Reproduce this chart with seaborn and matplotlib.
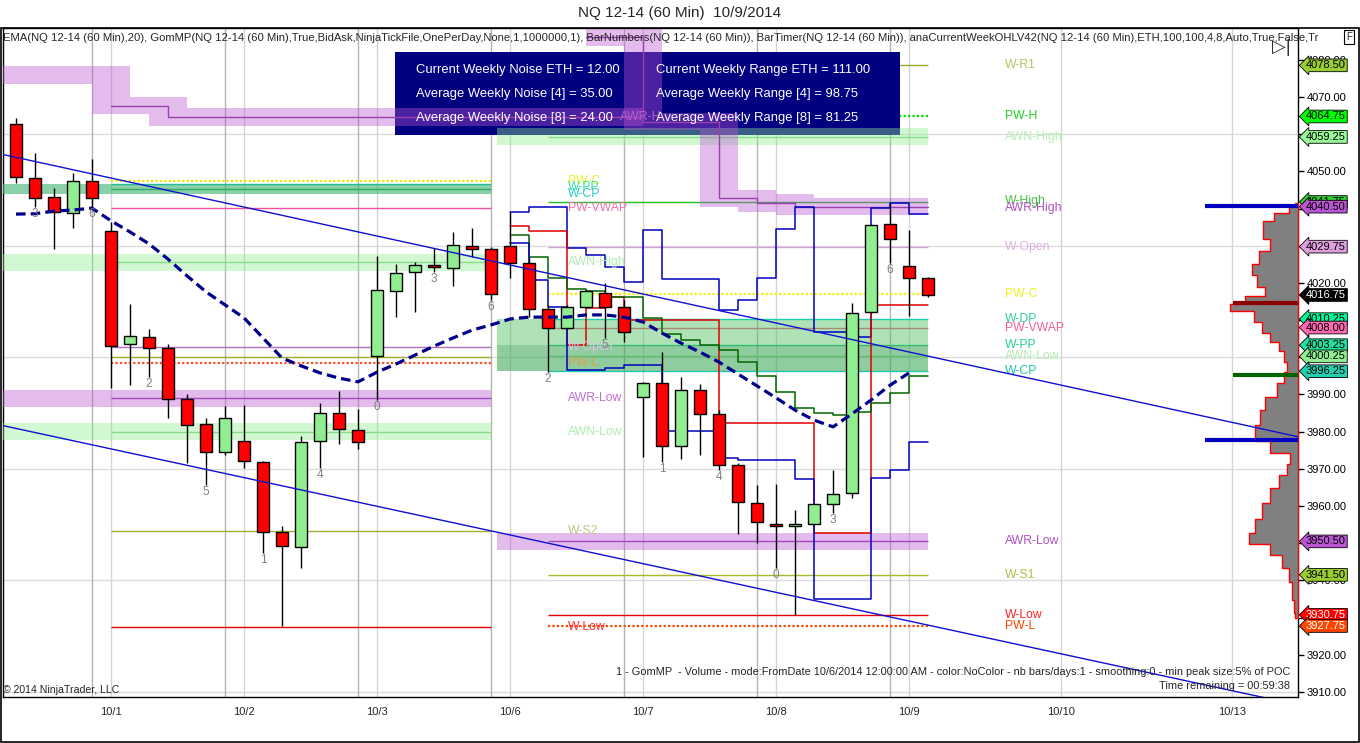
import matplotlib
matplotlib.use('Agg')
import matplotlib.pyplot as plt
from matplotlib import font_manager
from matplotlib.patches import Rectangle
import seaborn as sns
import numpy as np

sns.set_style('white')
_names = {f.name for f in font_manager.fontManager.ttflist}
NARROW = 'Liberation Sans Narrow' if 'Liberation Sans Narrow' in _names else 'Liberation Sans'
plt.rcParams['font.family'] = ['Liberation Sans', 'DejaVu Sans']

# ---------------- data: NQ 12-14, 60 min bars ----------------
opens = [4062.7, 4048.2, 4043.1, 4038.8, 4047.4, 4034.0, 4003.6, 4005.5, 4002.5, 3988.8,
         3982.0, 3974.5, 3977.5, 3971.8, 3953.0, 3949.0, 3977.5, 3985.0, 3980.4, 4000.3,
         4017.8, 4022.9, 4024.8, 4024.0, 4029.9, 4029.1, 4029.9, 4025.4, 4013.0, 4007.9,
         4013.5, 4017.3, 4013.5, 3989.3, 3993.1, 3976.1, 3991.2, 3984.8, 3971.0, 3960.8,
         3955.2, 3954.6, 3955.2, 3960.6, 3963.5, 4012.2, 4035.8, 4024.5, 4021.3]
highs = [4064.3, 4054.9, 4045.5, 4049.6, 4053.3, 4036.4, 4014.3, 4007.6, 4003.5, 3990.0,
         3983.7, 3986.9, 3987.2, 3972.1, 3954.6, 3978.8, 3987.7, 3990.9, 3986.1, 4027.2,
         4025.1, 4025.6, 4029.4, 4033.7, 4034.8, 4029.6, 4039.1, 4027.0, 4014.1, 4014.1,
         4018.0, 4020.0, 4015.4, 3993.4, 4001.4, 3994.7, 3992.8, 3985.9, 3971.6, 3965.7,
         3965.9, 3958.9, 3960.6, 3969.7, 4014.6, 4035.9, 4041.5, 4034.2, 4021.6]
lows = [4046.8, 4040.4, 4029.1, 4034.8, 4040.4, 3991.7, 3992.5, 3994.7, 3983.7, 3971.6,
        3965.7, 3973.7, 3970.2, 3947.4, 3927.7, 3943.3, 3970.2, 3976.7, 3975.3, 3988.5,
        4010.8, 4012.2, 4022.9, 4019.2, 4027.0, 4015.4, 4021.3, 4010.8, 3996.0, 4007.6,
        4013.3, 4005.2, 4004.1, 3973.2, 3971.8, 3972.6, 3973.7, 3969.7, 3952.5, 3950.1,
        3943.3, 3930.7, 3955.2, 3958.1, 3962.2, 4012.0, 4025.4, 4011.1, 4016.2]
closes = [4048.5, 4042.8, 4039.1, 4047.4, 4042.8, 4003.0, 4005.7, 4002.5, 3988.8, 3981.8,
          3974.5, 3983.7, 3972.1, 3953.0, 3949.3, 3977.2, 3985.0, 3980.7, 3977.2, 4018.1,
          4022.7, 4024.8, 4024.3, 4030.2, 4029.1, 4017.0, 4025.4, 4013.0, 4007.9, 4013.5,
          4017.8, 4013.5, 4006.8, 3993.1, 3976.1, 3991.2, 3984.8, 3971.0, 3961.1, 3955.7,
          3954.6, 3955.2, 3960.6, 3963.2, 4011.9, 4035.6, 4031.8, 4021.3, 4016.75]

ema20 = [4038.5, 4038.6, 4039.3, 4039.6, 4040.1, 4036.7, 4033.7, 4030.5, 4026.4, 4021.9,
         4017.6, 4014.1, 4010.6, 4005.2, 3999.8, 3997.7, 3995.8, 3994.4, 3993.4, 3996.0,
         3998.2, 4000.6, 4003.0, 4005.2, 4007.3, 4008.7, 4010.3, 4010.8, 4010.8, 4010.8,
         4011.4, 4011.4, 4010.8, 4009.5, 4006.5, 4003.8, 4001.4, 3998.7, 3995.5, 3992.3,
         3989.1, 3985.8, 3983.1, 3981.3, 3984.8, 3988.5, 3992.5, 3995.8]

bar_num_idx = [1, 4, 7, 10, 13, 16, 19, 22, 25, 28, 31, 34, 37, 40, 43, 46]
bar_num_txt = ['3', '6', '2', '5', '1', '4', '0', '3', '6', '2', '5', '1', '4', '0', '3', '6']

date_pos = [5, 12, 19, 26, 33, 40, 47, 55, 64]
date_lbl = ['10/1', '10/2', '10/3', '10/6', '10/7', '10/8', '10/9', '10/10', '10/13']
session_pos = [4, 11, 18, 25, 32, 39, 46]

# previous week levels (anaCurrentWeekOHLV)
prev_awr_high = [4075.9, 4075.9, 4075.9, 4075.9, 4075.9, 4067.6, 4067.6, 4067.6, 4064.6, 4064.6,
                 4064.6, 4064.6, 4064.6, 4064.6, 4064.6, 4064.6, 4064.6, 4064.6, 4064.6, 4064.6,
                 4064.6, 4064.6, 4064.6, 4064.6, 4064.6, 4064.6, 4064.6, 4064.6, 4064.6, 4064.6,
                 4064.6, 4064.6, 4064.6]
prev_pwc = 4047.4
prev_wdp = 4046.6
prev_wpp = 4045.2
prev_wcp = 4043.9
prev_vwap = 4040.1
prev_awn_high = 4025.6
prev_wopen = 4002.8
prev_ws1 = 4000.1
prev_pwl = 3998.5
prev_awr_low = 3989.0
prev_awn_low = 3980.0
prev_ws2 = 3953.3
prev_wlow = 3927.5

# current week levels
cw_r1 = 4078.50
cw_pwh = 4064.75
cw_awn_high = 4059.25
cw_whigh = 4041.75
cw_wopen = 4029.75
cw_pwc = 4017.0
cw_wdp = 4010.25
cw_vwap = 4008.00
cw_wpp = 4003.25
cw_awn_low = 4000.25
cw_wcp = 3996.25
cw_awr_low = 3950.50
cw_ws1 = 3941.50
cw_wlow = 3930.75
cw_pwl = 3927.75
cw_awr_idx = list(range(30, 48))
cw_awr_high = [4086.1, 4086.1, 4086.1, 4063.3, 4063.3, 4063.3, 4063.3, 4042.8, 4042.8, 4041.5,
               4041.5, 4040.5, 4040.5, 4040.5, 4040.5, 4040.5, 4040.5, 4040.5]

# current week step lines (bars 26..47)
step_idx = list(range(26, 48))
blue_hi = [4039.1, 4040.4, 4040.4, 4029.4, 4027.5, 4024.3, 4020.2, 4034.2, 4021.0, 4021.0, 4021.0,
           4012.7, 4015.4, 4021.3, 4034.5, 4040.4, 4006.8, 4006.8, 4005.5, 4040.1, 4041.5, 4038.5]
red_mid = [4035.3, 4034.0, 4034.0, 4003.3, 4013.3, 4016.2, 4010.0, 4010.0, 4010.0, 4010.0, 4010.0,
           3982.3, 3982.3, 3982.3, 3982.3, 3982.3, 3952.8, 3952.8, 3952.8, 4014.1, 4014.1, 4014.1]
green_mid = [4032.9, 4026.9, 4021.3, 4018.4, 4017.8, 4016.2, 4016.2, 4010.6, 4006.3, 4004.6, 4003.3,
             4002.0, 3998.7, 3995.0, 3990.7, 3986.4, 3985.0, 3984.5, 3985.3, 3987.7, 3990.4, 3995.0]
blue_lo = [4030.7, 4020.8, 4013.5, 3996.6, 3996.6, 3997.1, 3997.9, 3997.9, 3980.2, 3980.2, 3980.2,
           3972.9, 3972.4, 3972.4, 3972.4, 3967.3, 3935.0, 3935.0, 3935.0, 3967.5, 3969.7, 3977.2]

# trend lines (anchor bar, anchor price)
trend_hi_x = [-0.84, 67.5]
trend_hi_y = [4054.7, 3978.6]
trend_lo_x = [-0.84, 67.5]
trend_lo_y = [3981.8, 3906.5]

# GomMP volume profile (price, width in px)
vp_price = [4041.5, 4039.6, 4038.0, 4035.5, 4033.0, 4030.5, 4026.7, 4023.7, 4020.5, 4017.3,
            4015.4, 4013.5, 4011.3, 4007.8, 4005.4, 4003.0, 4000.6, 3997.1, 3995.0, 3991.2,
            3987.7, 3984.2, 3979.3, 3975.9, 3972.4, 3970.0, 3966.5, 3963.0, 3958.4, 3954.6,
            3951.1, 3948.7, 3945.2, 3941.7, 3937.2, 3932.3, 3930.0]
vp_width = [3, 9, 24, 35, 35, 28, 39, 46, 41, 33, 53, 68, 44, 36, 28, 19, 14, 11, 14, 21,
            33, 38, 43, 28, 8, 11, 19, 28, 36, 43, 49, 28, 16, 9, 6, 4, 3]
vp_line_price = [4040.8, 4014.6, 3995.2, 3977.8]
vp_line_len = [93, 65, 65, 93]
vp_line_color = ['#0000c0', '#8b0000', '#006400', '#0000c0']

# right axis price markers
mk_price = [4078.50, 4064.75, 4059.25, 4041.75, 4040.50, 4029.75, 4016.75, 4010.25, 4008.00,
            4003.25, 4000.25, 3996.25, 3950.50, 3941.50, 3930.75, 3927.75]
mk_color = ['#9acd32', '#00ff00', '#98fb98', '#32cd32', '#ba55d3', '#dda0dd', '#000000', '#00fa9a',
            '#ff69b4', '#20e0a0', '#90ee90', '#20d0b0', '#ba55d3', '#9acd32', '#ff0000', '#ff4500']
mk_text = ['black'] * 6 + ['white'] + ['black'] * 7 + ['white', 'white']
# tick labels that sit fully under a price marker
hidden_ticks = [4060, 4040, 4030, 4010, 4000, 3950, 3930]

noise_lines = ['Current Weekly Noise ETH = 12.00', 'Average Weekly Noise [4] = 35.00',
               'Average Weekly Noise [8] = 24.00']
range_lines = ['Current Weekly Range ETH = 111.00', 'Average Weekly Range [4] = 98.75',
               'Average Weekly Range [8] = 81.25']

# ---------------- layout / style constants ----------------
PX = 19.0                 # pixels per bar
XMIN, XMAX = -0.684, 67.47
YMIN, YMAX = 3908.66, 4088.54
PREV_LINE_START, PREV_END = 5, 25
CW_BAND_START, CW_LINE_START, CW_END = 25.3, 28, 48
BAND_W = 2.3
PURPLE = '#ba55d3'
LGREEN = '#90ee90'

fig = plt.figure(figsize=(13.6, 7.43), dpi=100)
ax = fig.add_axes([3 / 1360, 46 / 743, 1295 / 1360, 669 / 743])
ax.set_xlim(XMIN, XMAX)
ax.set_ylim(YMIN, YMAX)

# grid
for p in range(3910, 4090, 30):
    ax.axhline(p, color='#dcdcdc', lw=1, zorder=0)
for s in session_pos:
    ax.axvline(s, color='#b4b4b4', lw=1, zorder=0)
for d in date_pos:
    ax.axvline(d, color='#d4d4d4', lw=1, zorder=0)


def step_band(idx, lvl, x0=None, color=PURPLE, alpha=0.4, z=4):
    lo, hi = [], []
    for k in range(len(lvl)):
        nb = lvl[max(k - 1, 0):k + 2]
        lo.append(min(nb) - BAND_W)
        hi.append(max(nb) + BAND_W)
    xs = list(idx) + [idx[-1] + 1]
    if x0 is not None:
        xs[0] = x0
    lo.append(lo[-1])
    hi.append(hi[-1])
    ax.fill_between(xs, lo, hi, step='post', color=color, alpha=alpha, lw=0, zorder=z)


def flat_band(center, x0, x1, color, alpha=0.4, z=4):
    ax.fill_between([x0, x1], center - BAND_W, center + BAND_W, color=color, alpha=alpha, lw=0, zorder=z)


# ---- previous week ----
step_band(list(range(len(prev_awr_high))), prev_awr_high, x0=XMIN)
ax.step(list(range(PREV_LINE_START, len(prev_awr_high) + 1)),
        prev_awr_high[PREV_LINE_START:] + [prev_awr_high[-1]],
        where='post', color='#9a40b0', lw=1, zorder=4.2)
ax.fill_between([XMIN, PREV_END], prev_wcp, prev_wdp, color='#3cb371', alpha=0.6, lw=0, zorder=4)
flat_band(prev_awn_high, XMIN, PREV_END, LGREEN)
flat_band(prev_awr_low, XMIN, PREV_END, PURPLE)
flat_band(prev_awn_low, XMIN, PREV_END, LGREEN)
prev_lines = [(prev_pwc, '#e8e800', (0, (1, 1)), 1.6), (prev_wdp, '#00d0d0', '-', 1),
              (prev_wpp, '#20a040', '-', 1), (prev_vwap, '#f050a0', '-', 1),
              (prev_awn_high, '#80d080', '-', 1), (prev_wopen, '#b070c0', '-', 1),
              (prev_ws1, '#a0b030', '-', 1), (prev_pwl, '#ff5020', (0, (1, 1)), 1.6),
              (prev_awr_low, '#9a40b0', '-', 1), (prev_awn_low, '#80d080', '-', 1),
              (prev_ws2, '#a0b030', '-', 1), (prev_wlow, '#e00000', '-', 1)]
for p, c, ls, lw in prev_lines:
    ax.hlines(p, PREV_LINE_START, PREV_END, colors=c, linestyles=ls, lw=lw, zorder=3)

# ---- current week ----
cw_lines = [(cw_r1, '#9aad2a', '-', 1), (cw_pwh, '#00dd00', (0, (1, 1)), 1.6),
            (cw_awn_high, '#80d080', '-', 1), (cw_whigh, '#20c020', '-', 1),
            (cw_wopen, '#d0a0d8', '-', 1), (cw_pwc, '#f0f000', (0, (1, 1)), 1.6),
            (cw_wdp, '#00d8d8', '-', 1), (cw_vwap, '#f06080', '-', 1),
            (cw_wpp, '#20d890', '-', 1), (cw_awn_low, '#90e090', '-', 1),
            (cw_wcp, '#20c8b0', '-', 1), (cw_awr_low, '#9a40b0', '-', 1),
            (cw_ws1, '#a8b828', '-', 1), (cw_wlow, '#e00000', '-', 1),
            (cw_pwl, '#ff4500', (0, (1, 1)), 1.6)]
for p, c, ls, lw in cw_lines:
    ax.hlines(p, CW_LINE_START, CW_END, colors=c, linestyles=ls, lw=lw, zorder=3)

ax.fill_between([CW_BAND_START, CW_END], cw_wcp, cw_wdp, color='#50c060', alpha=0.45, lw=0, zorder=4)
ax.fill_between([CW_BAND_START, CW_END], cw_wcp, cw_wpp, color='#2e8b57', alpha=0.25, lw=0, zorder=4)
flat_band(cw_awn_high, CW_BAND_START, CW_END, LGREEN)
flat_band(cw_awr_low, CW_BAND_START, CW_END, PURPLE)
step_band(cw_awr_idx, cw_awr_high)
ax.step(cw_awr_idx + [CW_END], cw_awr_high + [cw_awr_high[-1]], where='post',
        color='#9a40b0', lw=1, zorder=4.2)

# step lines
for vals, col in [(blue_hi, '#0000c0'), (red_mid, '#e00000'), (green_mid, '#006400'), (blue_lo, '#0000c0')]:
    ax.step(step_idx + [CW_END], vals + [vals[-1]], where='post', color=col, lw=1.1, zorder=4.6)

# info box (indicator panel)
ax.add_patch(Rectangle((0.3027, 0.840), 0.39, 0.124, transform=ax.transAxes,
                       facecolor='#000080', edgecolor='none', zorder=3.5))
for k in range(3):
    yy = 0.937 - k * 0.036
    ax.text(0.319, yy, noise_lines[k], transform=ax.transAxes, color='white',
            fontsize=9.4, va='center', zorder=10)
    ax.text(0.504, yy, range_lines[k], transform=ax.transAxes, color='white',
            fontsize=9.4, va='center', zorder=10)
ax.text(31.8, prev_awr_high[-1], 'AWR-H', color='#b060c8', fontsize=9, va='center', zorder=9)

# candles
xs = np.arange(len(opens))
o, h, l, c = map(np.array, (opens, highs, lows, closes))
up = c >= o
ax.vlines(xs, l, h, color='black', lw=1, zorder=5)
body_lo = np.minimum(o, c)
body_h = np.maximum(np.abs(c - o), 0.5)
ax.bar(xs, body_h, bottom=body_lo, width=0.66, color=np.where(up, LGREEN, '#ff0000'),
       edgecolor='black', lw=1, zorder=5.5)

# EMA and trend lines
sns.lineplot(x=np.arange(len(ema20)), y=ema20, ax=ax, color='#00008b', lw=2.3,
             ls=(0, (3, 1.6)), zorder=7)
sns.lineplot(x=trend_hi_x, y=trend_hi_y, ax=ax, color='#1010d0', lw=1, zorder=6.5)
sns.lineplot(x=trend_lo_x, y=trend_lo_y, ax=ax, color='#1010d0', lw=1, zorder=6.5)

# bar numbers
for i, t in zip(bar_num_idx, bar_num_txt):
    ax.annotate(t, (i, lows[i]), xytext=(0, -7), textcoords='offset pixels', ha='center',
                va='center', color='#808080', fontsize=8.5, zorder=8)

# volume profile
vp_w = np.array(vp_width) / PX
ax.fill_betweenx(vp_price, XMAX - vp_w, XMAX, step='mid', facecolor='#808080',
                 edgecolor='#ff0000', lw=1, zorder=5)
for p, ln, col in zip(vp_line_price, vp_line_len, vp_line_color):
    ax.hlines(p, XMAX - ln / PX, XMAX, colors=col, lw=3, zorder=5.2)

# level labels
prev_lbls = [('PW-C', prev_pwc, '#f0f020'), ('W-PP', prev_wpp + 0.5, '#30e0a0'),
             ('W-CP', prev_wcp, '#20d0c0'), ('PW-VWAP', prev_vwap, '#f070b0'),
             ('AWN-High', prev_awn_high, '#b0ecb0'), ('W-Open', prev_wopen, '#e4c0e4'),
             ('PW-L', prev_pwl, '#e0a040'), ('AWR-Low', prev_awr_low, '#c070d0'),
             ('AWN-Low', prev_awn_low, '#b0ecb0'), ('W-S2', prev_ws2, '#c0c880'),
             ('W-Low', prev_wlow, '#ff3030')]
for t, p, col in prev_lbls:
    ax.text(29.05, p, t, color=col, fontsize=8.8, va='center', zorder=6)

cw_lbls = [('W-R1', cw_r1, '#b4c460'), ('PW-H', cw_pwh, '#20d020'),
           ('AWN-High', cw_awn_high, '#b4ecb4'), ('W-High', cw_whigh + 0.3, '#40c040'),
           ('AWR-High', cw_awr_high[-1] - 0.3, '#b050c0'), ('W-Open', cw_wopen, '#dcb0dc'),
           ('PW-C', cw_pwc, '#f0f020'), ('W-DP', cw_wdp, '#30d0a0'),
           ('PW-VWAP', cw_vwap, '#f060a0'), ('W-PP', cw_wpp, '#20d090'),
           ('AWN-Low', cw_awn_low, '#b4ecb4'), ('W-CP', cw_wcp, '#20c0b0'),
           ('AWR-Low', cw_awr_low, '#b050c0'), ('W-S1', cw_ws1, '#b0c040'),
           ('W-Low', cw_wlow, '#ff2020'), ('PW-L', cw_pwl, '#ff4500')]
for t, p, col in cw_lbls:
    ax.text(52.05, p, t, color=col, fontsize=8.8, va='center', zorder=6)

# axes
ytick_vals = np.arange(3910, 4081, 10)
ax.yaxis.tick_right()
ax.set_yticks(ytick_vals)
ax.set_yticklabels(['' if v in hidden_ticks else f'{v:.2f}' for v in ytick_vals])
ax.tick_params(axis='y', direction='out', length=4, width=1, pad=2, labelsize=8, colors='black')
ax.set_xticks(date_pos)
ax.set_xticklabels(date_lbl)
ax.tick_params(axis='x', length=0, pad=7, labelsize=8)
for sp in ax.spines.values():
    sp.set_color('black')
    sp.set_linewidth(1)

for p, fc, tc in zip(mk_price, mk_color, mk_text):
    ax.text(1.0062, p, f'{p:.2f}', transform=ax.get_yaxis_transform(), color=tc, fontsize=8,
            va='center', ha='left', zorder=20, clip_on=False,
            bbox=dict(boxstyle='larrow,pad=0.12', fc=fc, ec='black', lw=0.6))

# texts
fig.text(0.5, 1 - 13 / 743, 'NQ 12-14 (60 Min)  10/9/2014', ha='center', va='center',
         fontsize=11, family=[NARROW, 'DejaVu Sans'])
ax.text(0.0, 0.985, 'EMA(NQ 12-14 (60 Min),20), GomMP(NQ 12-14 (60 Min),True,BidAsk,NinjaTickFile,'
        'OnePerDay,None,1,1000000,1), BarNumbers(NQ 12-14 (60 Min)), BarTimer(NQ 12-14 (60 Min)), '
        'anaCurrentWeekOHLV42(NQ 12-14 (60 Min),ETH,100,100,4,8,Auto,True,False,Tr',
        transform=ax.transAxes, fontsize=8.1, va='center', ha='left', zorder=20,
        family=[NARROW, 'DejaVu Sans'])
ax.text(0.9938, 0.0374, '1 - GomMP  - Volume - mode:FromDate 10/6/2014 12:00:00 AM - color:NoColor - '
        'nb bars/days:1 - smoothing:0 - min peak size:5% of POC', transform=ax.transAxes,
        fontsize=7.9, ha='right', va='center', zorder=20)
ax.text(0.9938, 0.0164, 'Time remaining = 00:59:38', transform=ax.transAxes, fontsize=7.9,
        ha='right', va='center', zorder=20)
ax.text(0.0, 0.0105, '\u00a9 2014 NinjaTrader, LLC', transform=ax.transAxes, fontsize=7.6,
        ha='left', va='center', zorder=20)
fig.text(1281 / 1360, 1 - 47 / 743, '\u25b7|', fontsize=13, ha='center', va='center', color='#333333')
fig.text(1349 / 1360, 1 - 37 / 743, 'F', fontsize=7, ha='center', va='center',
         bbox=dict(boxstyle='square,pad=0.2', fc='white', ec='black', lw=0.8))

# outer frame
fig.add_artist(Rectangle((0.5 / 1360, 1.5 / 743), 1358.5 / 1360, 713.5 / 743, transform=fig.transFigure,
                         fill=False, edgecolor='black', lw=1.2))

fig.savefig('out.png', dpi=100)
